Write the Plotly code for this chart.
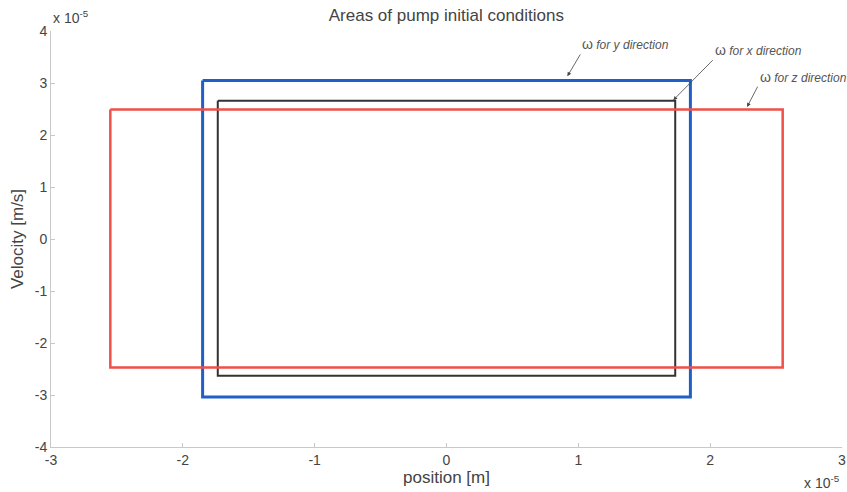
import plotly.graph_objects as go

# Data (units of 1e-5)
labels = ["ω for y direction", "ω for x direction", "ω for z direction"]
colors = ["#1f5fc9", "#333333", "#f0504a"]
widths = [3, 2, 2.5]
x_half = [1.85, 1.735, 2.55]
y_top = [3.05, 2.66, 2.49]
y_bot = [-3.04, -2.63, -2.47]

x_ticks = [-3, -2, -1, 0, 1, 2, 3]
y_ticks = [-4, -3, -2, -1, 0, 1, 2, 3, 4]

# arrow heads and tails (data units) for the labels
arrow_heads = [(0.917, 3.13), (1.72, 2.67), (2.28, 2.54)]
arrow_tails = [(1.015, 3.55), (2.02, 3.44), (2.36, 2.93)]

FONT = "Liberation Sans, Arial"

fig = go.Figure()
for lab, c, w, xh, yt, yb in zip(labels, colors, widths, x_half, y_top, y_bot):
    fig.add_trace(go.Scatter(
        x=[-xh, xh, xh, -xh, -xh],
        y=[yt, yt, yb, yb, yt],
        mode="lines", line=dict(color=c, width=w),
        name=lab, showlegend=False, hoverinfo="skip"))

for lab, (hx, hy), (tx, ty) in zip(labels, arrow_heads, arrow_tails):
    w, rest = lab.split(" ", 1)
    fig.add_annotation(x=hx, y=hy, ax=tx, ay=ty, xref="x", yref="y",
                       axref="x", ayref="y",
                       text="<span style='font-size:14px'>" + w + "</span> <i>" + rest + "</i>",
                       xanchor="left", yanchor="bottom",
                       font=dict(family=FONT, size=12, color="#555"),
                       showarrow=True, arrowhead=2, arrowsize=1,
                       arrowwidth=0.8, arrowcolor="#444")

fig.add_annotation(x=0.0, y=1.0, xref="paper", yref="paper",
                   xanchor="left", yanchor="bottom", yshift=3, xshift=0,
                   text="x 10<sup>-5</sup>", showarrow=False,
                   font=dict(family=FONT, size=14, color="#444"))
fig.add_annotation(x=1.0, y=0.0, xref="paper", yref="paper",
                   xanchor="right", yanchor="top", yshift=-24, xshift=0,
                   text="x 10<sup>-5</sup>", showarrow=False,
                   font=dict(family=FONT, size=14, color="#444"))

axis_common = dict(showgrid=False, zeroline=False, showline=True,
                   linecolor="#c8c8c8", linewidth=1, ticks="inside",
                   ticklen=4, tickcolor="#c8c8c8", mirror=False,
                   automargin=False,
                   tickfont=dict(family=FONT, size=14, color="#444"))

fig.update_layout(
    width=847, height=492,
    margin=dict(l=51, r=5, t=31, b=45, autoexpand=False),
    paper_bgcolor="white", plot_bgcolor="white",
    title=dict(text="Areas of pump initial conditions", x=0.527, y=0.97,
               xanchor="center", yanchor="middle",
               font=dict(family=FONT, size=17, color="#444")),
    xaxis=dict(range=[-3, 3], tickvals=x_ticks, ticktext=[str(v) for v in x_ticks],
               title=dict(text="position [m]", standoff=2,
                          font=dict(family=FONT, size=17, color="#444")),
               **axis_common),
    yaxis=dict(range=[-4, 4], tickvals=y_ticks, ticktext=[str(v) for v in y_ticks],
               title=dict(text="Velocity [m/s]", standoff=6,
                          font=dict(family=FONT, size=17, color="#444")),
               **axis_common),
)

fig.write_html("out.html", config={"displayModeBar": False},
               post_script="document.body.style.margin='0';")
